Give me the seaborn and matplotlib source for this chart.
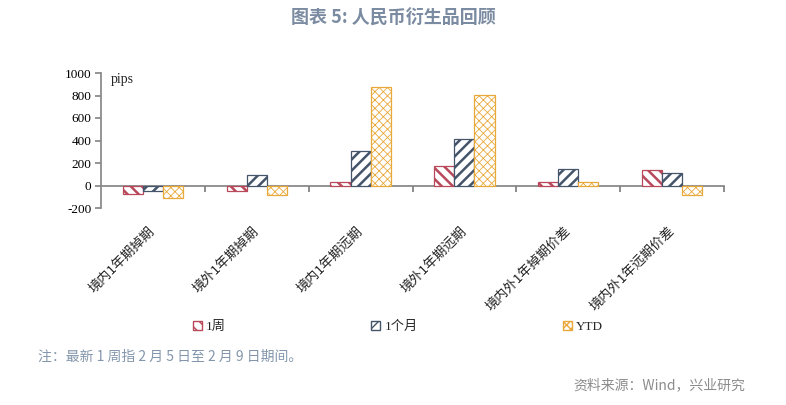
import pandas as pd
import numpy as np
import matplotlib.pyplot as plt
import seaborn as sns
from matplotlib.patches import Patch

sns.set_theme(style='white')
plt.rcParams['font.family'] = ['Liberation Serif', 'Noto Sans CJK SC']
plt.rcParams['axes.unicode_minus'] = False

# data (pips)
categories = ['境内1年期掉期', '境外1年期掉期', '境内1年期远期',
              '境外1年期远期', '境内外1年掉期价差', '境内外1年远期价差']
periods = ['1周', '1个月', 'YTD']
week = [-75, -48, 30, 173, 33, 137]
month = [-45, 95, 307, 412, 146, 107]
ytd = [-110, -87, 880, 803, 27, -81]

colors = {'1周': '#b8485a', '1个月': '#44546a', 'YTD': '#e9a93a'}
hatches = {'1周': '\\\\\\', '1个月': '///', 'YTD': 'xxxx'}

df = pd.DataFrame({'category': categories * 3,
                   'period': np.repeat(periods, len(categories)),
                   'value': week + month + ytd})

fig = plt.figure(figsize=(7.86, 4.05), dpi=100)
ax = fig.add_axes([101 / 786, 1 - 208 / 405, 623 / 786, 135 / 405])

sns.barplot(data=df, x='category', y='value', hue='period', order=categories,
            hue_order=periods, width=0.58, gap=0, ax=ax, legend=False)

# restyle bars: white fill, coloured hatch and edge
for container, p in zip(ax.containers, periods):
    for bar in container:
        bar.set_facecolor('white')
        bar.set_edgecolor(colors[p])
        bar.set_hatch(hatches[p])
        bar.set_linewidth(0.9)
        if hasattr(bar, 'set_hatch_linewidth'):
            bar.set_hatch_linewidth(0.6 if p == 'YTD' else 1.8)

ax.set_xlim(-0.5, len(categories) - 0.5)
ax.set_ylim(-200, 1000)
ax.set_yticks(range(-200, 1001, 200))
ax.set_xlabel('')
ax.set_ylabel('')
for s in ['top', 'right', 'bottom']:
    ax.spines[s].set_visible(False)
ax.spines['left'].set_color('#888888')
ax.tick_params(axis='y', left=True, direction='out', length=4, color='#888888',
               labelsize=9.5, pad=3, labelcolor='black')
ax.tick_params(axis='x', bottom=False, length=0, pad=15)
ax.set_xticks(range(len(categories)))
ax.set_xticklabels(categories, rotation=45, ha='right', va='center',
                   rotation_mode='anchor', fontsize=9.5, color='#222222',
                   family=['Noto Sans CJK SC'])

# zero line with category boundary ticks
zero = ax.secondary_xaxis(200 / 1200)
zero.spines['bottom'].set_color('#808080')
zero.spines['bottom'].set_linewidth(1.2)
zero.set_xticks(np.arange(0.5, len(categories), 1))
zero.tick_params(direction='out', length=4, color='#808080', labelbottom=False)

ax.text(0.015, 1.0, 'pips', transform=ax.transAxes, fontsize=10, va='top')

handles = [Patch(facecolor='white', edgecolor=colors[p], hatch=hatches[p]) for p in periods]
fig.legend(handles, periods, loc='center left', bbox_to_anchor=(181 / 786, 1 - 327 / 405),
           ncol=3, frameon=False, handlelength=0.7, handleheight=0.7,
           handletextpad=0.3, columnspacing=11, fontsize=9.5)

fig.text(0.5, 1 - 18 / 405, '图表 5: 人民币衍生品回顾', ha='center', va='center',
         fontsize=13, fontweight='bold', color='#7b8ba1', family=['Noto Sans CJK SC'])
fig.text(38 / 786, 1 - 357 / 405, '注：最新 1 周指 2 月 5 日至 2 月 9 日期间。', ha='left',
         va='center', fontsize=10, color='#8396ab', family=['Noto Sans CJK SC'])
fig.text(745 / 786, 1 - 385 / 405, '资料来源：Wind，兴业研究', ha='right', va='center',
         fontsize=10, color='#8c8c8c', family=['Noto Sans CJK SC'])

fig.savefig('out.png', dpi=100)
